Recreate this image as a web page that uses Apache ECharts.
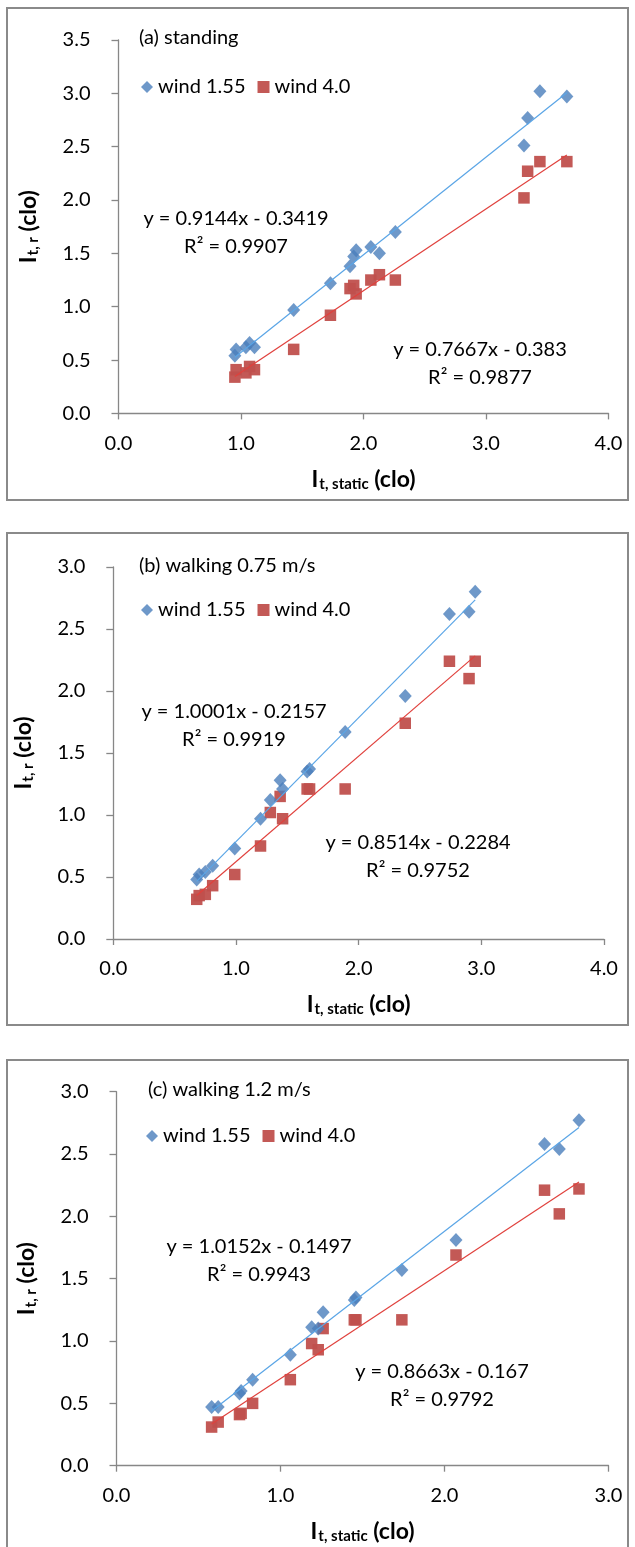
<!DOCTYPE html>
<html>
<head>
<meta charset="utf-8">
<script src="https://cdn.jsdelivr.net/npm/echarts@6/dist/echarts.min.js"></script>
<style>
html,body{margin:0;padding:0;background:#fff;}
#chart{width:635px;height:1547px;}
</style>
</head>
<body>
<div id="chart"></div>
<script>
// ---------- data ----------
const seriesNames = ['wind 1.55', 'wind 4.0'];
const panelTitles = ['(a) standing', '(b) walking 0.75 m/s', '(c) walking 1.2 m/s'];

// panel (a) standing
const aX    = [0.95,0.96,1.04,1.07,1.11,1.43,1.73,1.89,1.92,1.94,2.06,2.13,2.26,3.31,3.34,3.44,3.66];
const aBlue = [0.54,0.60,0.62,0.66,0.62,0.97,1.22,1.38,1.47,1.53,1.56,1.50,1.70,2.51,2.77,3.02,2.97];
const aRed  = [0.34,0.41,0.38,0.44,0.41,0.60,0.92,1.17,1.20,1.12,1.25,1.30,1.25,2.02,2.27,2.36,2.36];

// panel (b) walking 0.75 m/s
const bX    = [0.68,0.70,0.75,0.81,0.99,1.20,1.28,1.36,1.38,1.58,1.60,1.89,2.38,2.74,2.90,2.95];
const bBlue = [0.48,0.52,0.54,0.59,0.73,0.97,1.12,1.28,1.21,1.35,1.37,1.67,1.96,2.62,2.64,2.80];
const bRed  = [0.32,0.35,0.36,0.43,0.52,0.75,1.02,1.15,0.97,1.21,1.21,1.21,1.74,2.24,2.10,2.24];

// panel (c) walking 1.2 m/s
const cX    = [0.58,0.62,0.75,0.76,0.83,1.06,1.19,1.23,1.26,1.45,1.46,1.74,2.07,2.61,2.70,2.82];
const cBlue = [0.47,0.47,0.58,0.60,0.69,0.89,1.11,1.10,1.23,1.33,1.35,1.57,1.81,2.58,2.54,2.77];
const cRed  = [0.31,0.35,0.41,0.42,0.50,0.69,0.98,0.93,1.10,1.17,1.17,1.17,1.69,2.21,2.02,2.22];

// linear fits [slope, intercept, R2]
const aFitBlue = [0.9144, -0.3419, 0.9907];
const aFitRed  = [0.7667, -0.383, 0.9877];
const bFitBlue = [1.0001, -0.2157, 0.9919];
const bFitRed  = [0.8514, -0.2284, 0.9752];
const cFitBlue = [1.0152, -0.1497, 0.9943];
const cFitRed  = [0.8663, -0.167, 0.9792];

// axis ranges / ticks
const xMaxes = [4, 4, 3];
const yMaxes = [3.5, 3, 3];
const yInterval = 0.5;
const xInterval = 1;

// ---------- layout ----------
const FONT = 'Lato, "Open Sans", sans-serif';
const FS = 20;
const BLUE = '#4a7ebb', RED = '#c0504d';
const BLUE_LINE = '#5aa5e6', RED_LINE = '#e0413d';
const AXIS_C = '#878787';

const grids = [
  {left: 118.5, top: 40,    width: 490, height: 373.4},
  {left: 113.3, top: 567,   width: 490.7, height: 372},
  {left: 116.5, top: 1091.7, width: 492, height: 374}
];
const boxes = [
  {x: 7, y: 8,    w: 621, h: 492},
  {x: 7, y: 533,  w: 621, h: 492},
  {x: 7, y: 1060, w: 621, h: 500}
];
const titlePos = [[134, 36], [134, 564], [143, 1088]];
const legendPos = [[136, 72], [136, 595], [141, 1121]];
const eqPos = [
  {blue: [236, 219], red: [480, 350]},
  {blue: [234, 712], red: [418, 843]},
  {blue: [259, 1247], red: [442, 1372]}
];

const panels = [
  {x: aX, blue: aBlue, red: aRed, fb: aFitBlue, fr: aFitRed},
  {x: bX, blue: bBlue, red: bRed, fb: bFitBlue, fr: bFitRed},
  {x: cX, blue: cBlue, red: cRed, fb: cFitBlue, fr: cFitRed}
];

function pts(xs, ys) { return xs.map((v, i) => [v, ys[i]]); }
function fitLine(xs, f) {
  const lo = Math.min.apply(null, xs), hi = Math.max.apply(null, xs);
  return [[lo, f[0] * lo + f[1]], [hi, f[0] * hi + f[1]]];
}
function eqText(f) {
  const s = f[1] < 0 ? ' - ' : ' + ';
  return 'y = ' + f[0] + 'x' + s + Math.abs(f[1]);
}
const richName = {
  i: {fontSize: 23, fontWeight: 'bold', color: '#000', fontFamily: FONT},
  s: {fontSize: 15, fontWeight: 'bold', color: '#000', fontFamily: FONT, verticalAlign: 'bottom', padding: [9, 0, 0, 1]},
  c: {fontSize: 23, fontWeight: 'bold', color: '#000', fontFamily: FONT}
};

const xAxis = [], yAxis = [], series = [], legend = [], title = [], graphic = [];

panels.forEach((p, k) => {
  xAxis.push({
    gridIndex: k, type: 'value', min: 0, max: xMaxes[k], interval: xInterval,
    axisLine: {show: true, onZero: false, lineStyle: {color: AXIS_C, width: 1.3}},
    axisTick: {show: true, length: 6, lineStyle: {color: AXIS_C, width: 1.3}},
    splitLine: {show: false},
    axisLabel: {formatter: v => v.toFixed(1), fontSize: FS, color: '#000', fontFamily: FONT, margin: 20},
    name: '{i|I}{s|t, static}{c| (clo)}',
    nameLocation: 'middle', nameGap: 54,
    nameTextStyle: {rich: richName}
  });
  yAxis.push({
    gridIndex: k, type: 'value', min: 0, max: yMaxes[k], interval: yInterval,
    axisLine: {show: true, lineStyle: {color: AXIS_C, width: 1.3}},
    axisTick: {show: true, length: 7, lineStyle: {color: AXIS_C, width: 1.3}},
    splitLine: {show: false},
    axisLabel: {formatter: v => v.toFixed(1), fontSize: FS, color: '#000', fontFamily: FONT, margin: 28},
    name: '{i|I}{s|t, r}{c| (clo)}',
    nameLocation: 'middle', nameGap: 78, nameRotate: 90,
    nameTextStyle: {rich: richName}
  });
  series.push({
    name: seriesNames[0], type: 'scatter', xAxisIndex: k, yAxisIndex: k,
    symbol: 'diamond', symbolSize: [13, 14], itemStyle: {color: BLUE},
    data: pts(p.x, p.blue), z: 3
  });
  series.push({
    name: seriesNames[1], type: 'scatter', xAxisIndex: k, yAxisIndex: k,
    symbol: 'rect', symbolSize: 11.5, itemStyle: {color: RED, opacity: 0.95},
    data: pts(p.x, p.red), z: 2
  });
  series.push({
    name: 'fit1-' + k, type: 'line', xAxisIndex: k, yAxisIndex: k, showSymbol: false,
    lineStyle: {color: BLUE_LINE, width: 1.2}, data: fitLine(p.x, p.fb), z: 4, silent: true
  });
  series.push({
    name: 'fit2-' + k, type: 'line', xAxisIndex: k, yAxisIndex: k, showSymbol: false,
    lineStyle: {color: RED_LINE, width: 1.2}, data: fitLine(p.x, p.fr), z: 4, silent: true
  });
  legend.push({
    data: [{name: seriesNames[0], icon: 'diamond'}, {name: seriesNames[1], icon: 'rect'}],
    left: legendPos[k][0], top: legendPos[k][1], orient: 'horizontal',
    itemWidth: 12, itemHeight: 12, itemGap: 12, selectedMode: false,
    textStyle: {fontSize: FS, color: '#000', fontFamily: FONT}
  });
  title.push({
    text: panelTitles[k], left: titlePos[k][0], top: titlePos[k][1] - 13,
    textStyle: {fontSize: FS, fontWeight: 'normal', color: '#000', fontFamily: FONT}
  });
  graphic.push({
    type: 'rect', shape: {x: boxes[k].x, y: boxes[k].y, width: boxes[k].w, height: boxes[k].h},
    style: {fill: 'none', stroke: '#8a8a8a', lineWidth: 2}, z: 0, silent: true
  });
  [['blue', p.fb], ['red', p.fr]].forEach(([key, f]) => {
    const pos = eqPos[k][key];
    graphic.push({
      type: 'text', x: pos[0], y: pos[1], silent: true,
      style: {text: eqText(f), fontSize: FS, fontFamily: FONT, fill: '#000', align: 'center', verticalAlign: 'middle'}
    });
    graphic.push({
      type: 'text', x: pos[0], y: pos[1] + 28, silent: true,
      style: {text: 'R\u00B2 = ' + f[2], fontSize: FS, fontFamily: FONT, fill: '#000', align: 'center', verticalAlign: 'middle'}
    });
  });
});

const chart = echarts.init(document.getElementById('chart'), null, {renderer: 'canvas'});
chart.setOption({
  animation: false,
  backgroundColor: '#fff',
  grid: grids,
  xAxis: xAxis,
  yAxis: yAxis,
  legend: legend,
  title: title,
  graphic: graphic,
  series: series
});
</script>
</body>
</html>
